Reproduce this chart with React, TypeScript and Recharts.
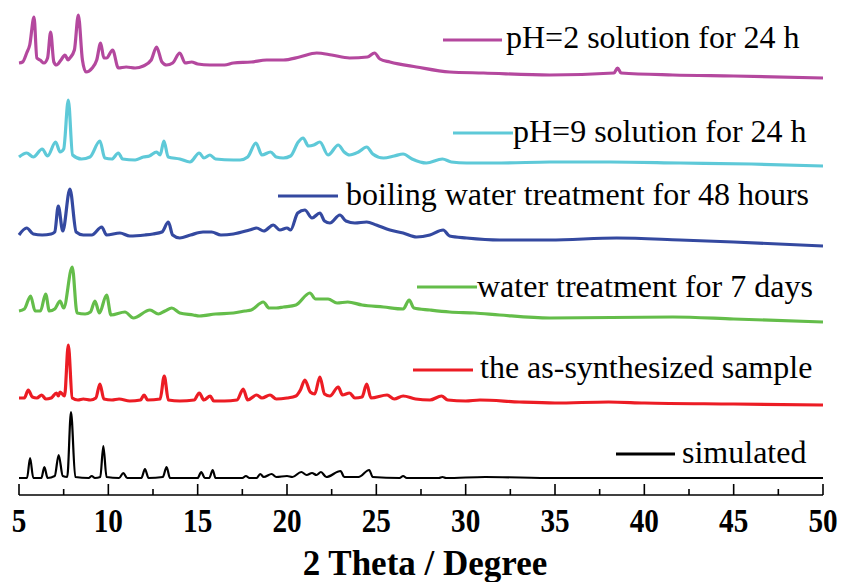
import React from "react";
import { LineChart, Line, XAxis, YAxis, Label } from "recharts";

// 2θ (deg), intensity above each trace's own baseline (arbitrary units)
const simulated: [number, number][] = [
  [5.0, 2], [5.45, 2], [5.62, 22], [5.8, 2], [6.25, 2], [6.42, 13], [6.6, 2], [7.0, 4],
  [7.22, 25], [7.45, 4], [7.7, 3], [7.91, 68], [8.15, 3], [8.9, 2], [9.07, 4], [9.25, 2],
  [9.55, 3], [9.72, 34], [9.9, 3], [10.6, 2], [10.84, 7], [11.05, 2], [11.85, 2], [12.05, 11],
  [12.25, 2], [13.05, 3], [13.26, 13], [13.45, 2], [14.2, 2], [15.0, 2], [15.2, 8], [15.4, 2],
  [15.65, 2], [15.84, 10], [16.0, 2], [17.5, 2], [17.7, 4], [17.9, 2], [18.3, 2], [18.5, 6],
  [18.7, 3], [19.14, 6], [19.4, 3], [20.0, 4], [20.3, 3], [20.8, 8], [21.1, 5], [21.4, 7],
  [21.65, 5], [21.9, 8], [22.2, 3], [23.0, 9], [23.2, 3], [24.0, 3], [24.6, 10], [24.8, 3],
  [26.3, 2], [26.5, 4], [26.7, 2], [28.5, 2], [28.7, 3], [28.9, 2], [31.1, 3], [35, 2],
  [40, 2], [45, 2], [50, 2],
];

const asSynthesized: [number, number][] = [
  [5.0, 8], [5.3, 8], [5.52, 16], [5.75, 9], [6.0, 8], [6.27, 11], [6.5, 7], [6.8, 8],
  [7.1, 13], [7.2, 10], [7.3, 14], [7.55, 10], [7.76, 61], [7.98, 8], [8.3, 6], [8.6, 7],
  [9.0, 6], [9.3, 8], [9.53, 22], [9.75, 7], [10.2, 6], [10.6, 7], [11.2, 5], [11.8, 6],
  [12.0, 11], [12.2, 6], [12.9, 7], [13.13, 30], [13.36, 6], [14.0, 5], [14.8, 6], [15.09, 13],
  [15.35, 6], [15.7, 10], [15.9, 5], [16.5, 5], [17.2, 6], [17.55, 17], [17.8, 6], [18.3, 11],
  [18.6, 8], [19.05, 11], [19.4, 7], [20.0, 8], [20.5, 10], [20.75, 16], [21.0, 26], [21.3, 14],
  [21.55, 12], [21.84, 29], [22.1, 12], [22.4, 10], [22.87, 19], [23.1, 11], [23.5, 13], [23.8, 8],
  [24.2, 9], [24.46, 22], [24.7, 8], [25.6, 11], [26.0, 7], [26.5, 10], [27.2, 7], [28.0, 6],
  [28.65, 10], [29.0, 6], [30.0, 5], [30.8, 6], [33, 4], [35, 3], [38, 4], [40, 3],
  [45, 2], [50, 1],
];

const water7d: [number, number][] = [
  [5.0, 12], [5.3, 14], [5.65, 27], [5.9, 12], [6.2, 12], [6.49, 29], [6.7, 12], [7.0, 14],
  [7.3, 22], [7.5, 15], [7.98, 56], [8.25, 10], [8.7, 9], [9.0, 11], [9.25, 22], [9.5, 10],
  [9.9, 28], [10.15, 8], [10.93, 11], [11.4, 5], [12.33, 13], [12.8, 9], [13.17, 12], [13.55, 15],
  [14.0, 10], [14.75, 8], [15.1, 7], [16.0, 9], [17.0, 10], [17.65, 12], [18.0, 13], [18.67, 21],
  [19.0, 15], [19.4, 15], [19.8, 16], [20.5, 18], [21.28, 30], [21.6, 24], [22.3, 24], [22.8, 20],
  [23.4, 21], [24.2, 18], [25.4, 16], [26.5, 14], [26.84, 23], [27.1, 15], [28, 13], [29.1, 11],
  [30.5, 10], [31.9, 8], [34.7, 5], [41.6, 6], [45, 4], [50, 1],
];

const boiling48h: [number, number][] = [
  [5.0, 12], [5.43, 19], [5.8, 13], [6.3, 12], [6.8, 13], [7.0, 15], [7.2, 41], [7.45, 16],
  [7.85, 58], [8.2, 15], [8.6, 12], [9.07, 12], [9.63, 20], [9.9, 12], [10.65, 14], [11.2, 11],
  [12.05, 12], [12.5, 13], [13.0, 15], [13.36, 25], [13.6, 12], [14.0, 9], [14.6, 12], [15.3, 15],
  [15.78, 15], [16.3, 12], [17.0, 13], [17.9, 17], [18.3, 19], [18.7, 16], [19.23, 22], [19.6, 17],
  [20.0, 19], [20.2, 17], [20.6, 34], [21.0, 37], [21.4, 29], [21.84, 34], [22.1, 26], [22.4, 24],
  [22.96, 32], [23.3, 26], [23.8, 24], [24.46, 25], [25.0, 22], [25.76, 17], [26.5, 14], [27.25, 10],
  [28.0, 12], [28.74, 17], [29.1, 11], [30.05, 9], [31.9, 7], [34.7, 7], [38.45, 9], [42, 7],
  [45, 5], [50, 1],
];

const ph9: [number, number][] = [
  [5.0, 10], [5.43, 14], [5.8, 10], [6.3, 18], [6.6, 11], [7.05, 25], [7.3, 15], [7.5, 18],
  [7.76, 67], [8.0, 12], [8.5, 8], [8.97, 10], [9.53, 26], [9.8, 9], [10.2, 8], [10.56, 14],
  [10.8, 8], [11.5, 7], [11.96, 10], [12.3, 11], [12.7, 15], [12.9, 12], [13.11, 26], [13.35, 10],
  [14.0, 8], [14.57, 5], [15.09, 14], [15.35, 9], [15.69, 12], [16.0, 8], [17.0, 7], [17.37, 7],
  [17.8, 10], [18.26, 24], [18.6, 12], [19.08, 15], [19.4, 10], [19.79, 9], [20.2, 11], [20.63, 25],
  [20.9, 29], [21.2, 21], [21.5, 22], [21.84, 25], [22.3, 12], [22.87, 22], [23.2, 15], [23.5, 12],
  [24.0, 15], [24.46, 20], [24.8, 13], [25.4, 9], [26.0, 11], [26.5, 13], [27.0, 8], [27.8, 4],
  [28.7, 8], [29.2, 5], [30.05, 4], [32, 4], [34.7, 5], [38.1, 5], [42, 4], [46, 3], [50, 1],
];

const ph2: [number, number][] = [
  [5.0, 17], [5.2, 18], [5.43, 27], [5.6, 35], [5.84, 63], [6.0, 22], [6.18, 20], [6.4, 17],
  [6.6, 22], [6.77, 48], [6.95, 18], [7.1, 15], [7.35, 20], [7.57, 25], [7.75, 20], [7.85, 22],
  [8.1, 30], [8.32, 65], [8.55, 20], [8.75, 8], [9.1, 12], [9.35, 20], [9.57, 37], [9.75, 22],
  [9.9, 22], [10.24, 30], [10.56, 12], [11.0, 13], [11.5, 12], [11.96, 14], [12.4, 20], [12.7, 33],
  [13.0, 18], [13.26, 15], [13.6, 17], [14.0, 27], [14.3, 17], [14.66, 18], [15.0, 16], [15.69, 15],
  [16.5, 15], [17.0, 17], [18.0, 18], [18.86, 20], [19.8, 20], [20.7, 23], [21.66, 27], [22.5, 25],
  [23.5, 22], [24.5, 23], [24.9, 27], [25.2, 21], [25.76, 18], [27.25, 13], [29.1, 8], [31.0, 7],
  [34.7, 5], [38.3, 7], [38.5, 12], [38.7, 7], [41.6, 5], [45, 4], [50, 2],
];

const names = [
  "simulated",
  "the as-synthesized sample",
  "water treatment for 7 days",
  "boiling water treatment for 48 hours",
  "pH=9 solution for 24 h",
  "pH=2 solution for 24 h",
];
const traces = [simulated, asSynthesized, water7d, boiling48h, ph9, ph2];
const offsets = [15, 89, 172, 248, 328, 415];
const colors = ["#000000", "#ec1c24", "#64bd4a", "#3449a0", "#5ec9d8", "#b4489e"];
const xTicks = [5, 7.5, 10, 12.5, 15, 17.5, 20, 22.5, 25, 27.5, 30, 32.5, 35, 37.5, 40, 42.5, 45, 47.5, 50];

// legend placement: [lineX1, lineX2, lineY, textX, textBaseline]
const legendPos: [number, number, number, number, number][] = [
  [616, 675, 454, 682, 463],
  [413, 473, 370, 480, 378],
  [417, 477, 287, 477, 297],
  [278, 338, 196, 346, 205],
  [453, 513, 133, 513, 142],
  [443, 502, 40, 506, 48],
];

const serif = "'Liberation Serif', 'Times New Roman', serif";

const series = traces.map((t, i) => t.map(([x, y]) => ({ x, y: y + offsets[i] })));

const XTick = (props: any) => {
  const { x, y, payload } = props;
  const major = payload.value % 5 === 0;
  return (
    <g>
      <line x1={x} x2={x} y1={y} y2={y - (major ? 11 : 6)} stroke="#000" strokeWidth={1.6} />
      {major && (
        <text
          x={x}
          y={y + 37}
          textAnchor="middle"
          fontFamily={serif}
          fontWeight="bold"
          fontSize={34}
          fill="#000"
          transform={`translate(${x} 0) scale(0.86 1) translate(${-x} 0)`}
        >
          {payload.value}
        </text>
      )}
    </g>
  );
};

export default function App() {
  return (
    <div style={{ position: "absolute", left: 0, top: 0, width: 842, height: 582, background: "#fff" }}>
      <LineChart width={842} height={582} margin={{ top: 5, right: 19, bottom: 0, left: 19 }}>
        <XAxis
          type="number"
          dataKey="x"
          domain={[5, 50]}
          ticks={xTicks}
          interval={0}
          tickSize={0}
          tickMargin={0}
          tick={<XTick />}
          height={87}
          stroke="#000"
          strokeWidth={1.6}
          allowDuplicatedCategory={false}
        >
          <Label
            content={(p: any) => {
              const vb = p.viewBox;
              return (
                <text x={vb.x + vb.width / 2 + 4} y={vb.y + 80} textAnchor="middle" fontFamily={serif} fontWeight="bold" fontSize={35} fill="#000">
                  2 Theta / Degree
                </text>
              );
            }}
          />
        </XAxis>
        <YAxis hide type="number" domain={[0, 490]} />
        {series.map((d, i) => (
          <Line
            key={names[i]}
            data={d}
            dataKey="y"
            name={names[i]}
            type="monotoneX"
            stroke={colors[i]}
            strokeWidth={i === 0 ? 2.2 : 3.2}
            strokeLinejoin="round"
            dot={false}
            isAnimationActive={false}
          />
        ))}
      </LineChart>
      <svg width={842} height={582} style={{ position: "absolute", left: 0, top: 0, pointerEvents: "none" }}>
        {legendPos.map(([x1, x2, ly, tx, ty], i) => (
          <g key={names[i]}>
            <line x1={x1} x2={x2} y1={ly} y2={ly} stroke={colors[i]} strokeWidth={3} />
            <text x={tx} y={ty} fontFamily={serif} fontSize={32} fill="#000">
              {names[i]}
            </text>
          </g>
        ))}
      </svg>
    </div>
  );
}
